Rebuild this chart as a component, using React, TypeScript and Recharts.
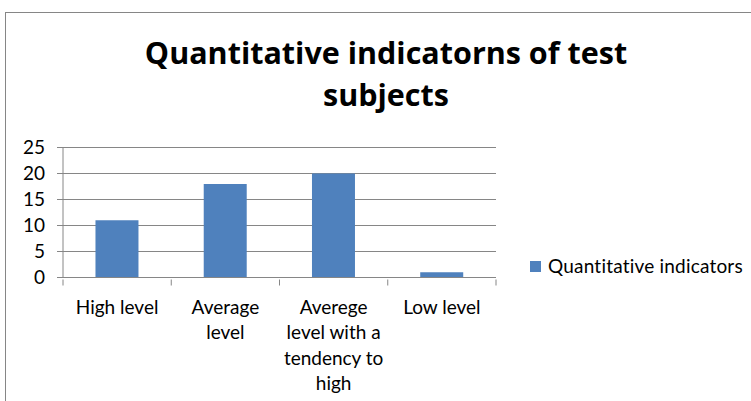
import React from 'react';
import { BarChart, Bar, XAxis, YAxis, CartesianGrid, Legend } from 'recharts';

const categories = ['High level', 'Average level', 'Averege level with a tendency to high', 'Low level'];
const categoryLines = [['High level'], ['Average', 'level'], ['Averege', 'level with a', 'tendency to', 'high'], ['Low level']];
const values = [11, 18, 20, 1];
const yTicks = [0, 5, 10, 15, 20, 25];
const seriesName = 'Quantitative indicators';
const titleLines = ['Quantitative indicatorns of test', 'subjects'];

const data = categories.map((c, i) => ({ name: c, value: values[i] }));

const FONT = 'Lato, "Open Sans", sans-serif';
const TITLE_FONT = '"Open Sans", Lato, sans-serif';
const GRAY = '#868686';

const XTick = (props: any) => {
  const { x, y, payload, index } = props;
  const idx = payload && typeof payload.index === 'number' ? payload.index : index;
  const off = payload && payload.offset ? payload.offset : 54;
  const lines = categoryLines[idx] || [String(payload.value)];
  return (
    <g>
      <line x1={x - off} x2={x - off} y1={y - 6} y2={y} stroke={GRAY} strokeWidth={1} />
      {idx === categories.length - 1 && (
        <line x1={x + off} x2={x + off} y1={y - 6} y2={y} stroke={GRAY} strokeWidth={1} />
      )}
      <text x={x} y={y + 28} textAnchor="middle" fontFamily={FONT} fontSize={19} fill="#000">
        {lines.map((l: string, i: number) => (
          <tspan key={i} x={x} dy={i === 0 ? 0 : 25.5}>{l}</tspan>
        ))}
      </text>
    </g>
  );
};

const LegendContent = (props: any) => {
  const items = props.payload || [];
  return (
    <div style={{ whiteSpace: 'nowrap', fontFamily: FONT, fontSize: 19, lineHeight: '24px', color: '#000' }}>
      {items.map((e: any, i: number) => (
        <div key={i} style={{ display: 'flex', alignItems: 'center' }}>
          <span style={{ display: 'inline-block', width: 11, height: 11, background: e.color, marginRight: 7 }} />
          <span style={{ letterSpacing: 0.2 }}>{e.value}</span>
        </div>
      ))}
    </div>
  );
};

export default function App() {
  return (
    <div style={{ position: 'absolute', left: 0, top: 0, width: 751, height: 401, overflow: 'hidden', background: '#fff' }}>
      <div style={{ position: 'absolute', left: 5, top: 12, width: 800, height: 500, border: `1px solid ${GRAY}`, boxSizing: 'border-box' }} />
      <div style={{ position: 'absolute', left: 0, top: 30.5, width: 772, textAlign: 'center', fontFamily: TITLE_FONT, fontWeight: 700, fontSize: 30.5, lineHeight: '42px', color: '#000' }}>
        {titleLines.map((t, i) => <div key={i}>{t}</div>)}
      </div>
      <div style={{ position: 'absolute', left: 0, top: 0 }}>
        <BarChart width={751} height={401} data={data} margin={{ top: 147.5, right: 255, bottom: 0, left: 0 }} barCategoryGap="30%">
          <CartesianGrid vertical={false} stroke={GRAY} strokeWidth={1} />
          <XAxis dataKey="name" height={123.5} axisLine={{ stroke: GRAY }} tickLine={false} tickSize={6} tick={<XTick />} interval={0} />
          <YAxis domain={[0, 25]} ticks={yTicks} width={63} axisLine={{ stroke: GRAY }} tickLine={{ stroke: GRAY }} tickSize={6} tickMargin={12} tick={{ fontFamily: FONT, fontSize: 19, fill: '#000' }} interval={0} />
          <Legend
            layout="vertical"
            align="center"
            verticalAlign="middle"
            content={<LegendContent />}
            wrapperStyle={{ position: 'absolute', left: 530, top: 254, width: 221 }}
          />
          <Bar dataKey="value" name={seriesName} fill="#4F81BD" isAnimationActive={false} />
        </BarChart>
      </div>
    </div>
  );
}
